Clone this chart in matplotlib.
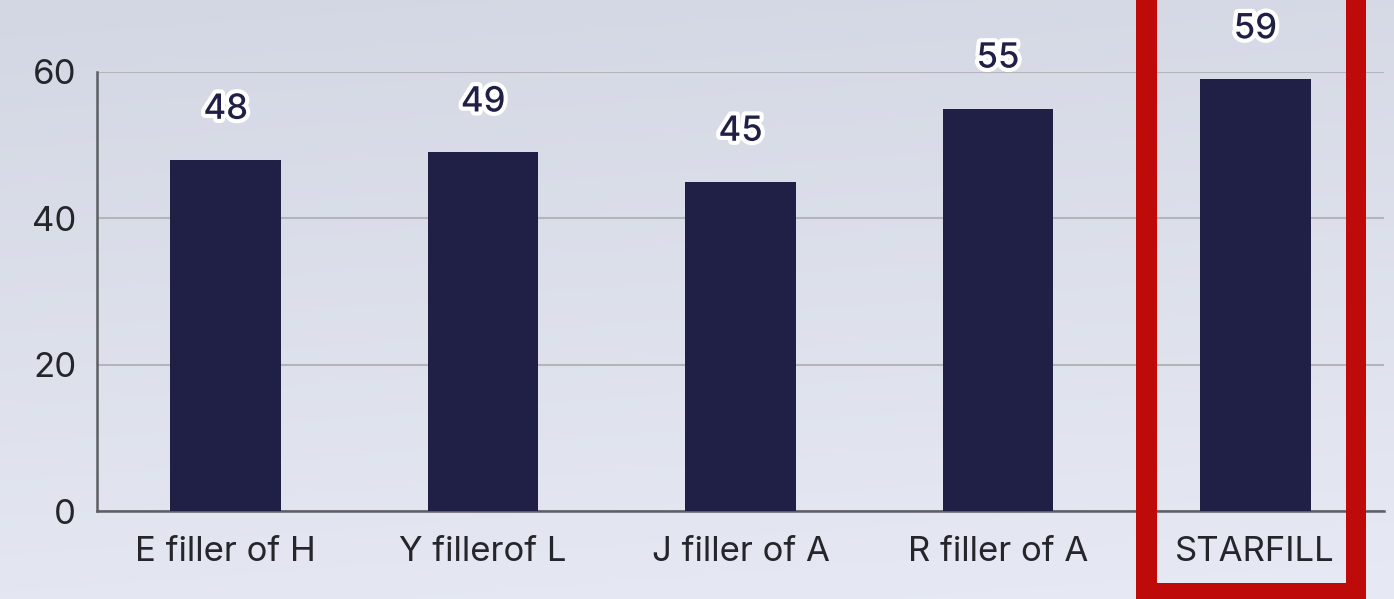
import matplotlib.pyplot as plt
import numpy as np
from matplotlib.patches import Rectangle
import matplotlib.patheffects as pe

plt.rcParams['font.family'] = ['Inter', 'DejaVu Sans']

categories = ['E filler of H', 'Y fillerof L', 'J filler of A', 'R filler of A', 'STARFILL']
values = [48, 49, 45, 55, 59]
yticks = [0, 20, 40, 60]

bar_color = '#201f45'
text_color = '#25262b'
W, H = 1394, 599

fig = plt.figure(figsize=(13.94, 5.99), dpi=100)

# soft background gradient
bg = fig.add_axes([0, 0, 1, 1], zorder=-10)
yy, xx = np.mgrid[0:1:200j, 0:1:400j]
top = np.array([211, 215, 227]) / 255
bot = np.array([231, 234, 244]) / 255
t = (yy * 0.85 + 0.15 * xx)[..., None]
img = top * (1 - t) + bot * t
bg.imshow(img, aspect='auto', extent=[0, 1, 0, 1], origin='upper')
bg.axis('off')

ax = fig.add_axes([97 / W, (H - 511) / H, (1384 - 97) / W, (511 - 72) / H])
ax.patch.set_alpha(0)

x = np.arange(len(categories))
ax.bar(x, values, width=0.43, color=bar_color, zorder=3)

for xi, v in zip(x, values):
    ax.annotate(str(v), (xi, v), xytext=(0, 36), textcoords='offset points',
                ha='center', va='center', fontsize=25, fontweight='medium',
                color=bar_color, annotation_clip=False,
                path_effects=[pe.withStroke(linewidth=6, foreground='white')])

ax.set_xlim(-0.5, 4.5)
ax.set_ylim(0, 60)
ax.set_yticks(yticks)
ax.set_xticks(x)
ax.set_xticklabels(categories)
ax.tick_params(axis='both', length=0, labelsize=25, colors=text_color)
ax.tick_params(axis='y', pad=15)
ax.tick_params(axis='x', pad=18)
ax.yaxis.grid(True, color='#b3b5ba', linewidth=1.5, zorder=0)
for s in ['top', 'right']:
    ax.spines[s].set_visible(False)
for s in ['left', 'bottom']:
    ax.spines[s].set_color('#5c5e63')
    ax.spines[s].set_linewidth(1.8)

# highlight box around last category (left, right and bottom bars, in pixels)
red = '#bf0a0a'
for (x0, y0, w, h) in [(1136, 0, 21, H), (1346, 0, 20, H), (1136, 0, 230, 16)]:
    fig.patches.append(Rectangle((x0 / W, y0 / H), w / W, h / H, transform=fig.transFigure,
                                 facecolor=red, edgecolor='none', zorder=10))

fig.savefig('out.png', dpi=100)
